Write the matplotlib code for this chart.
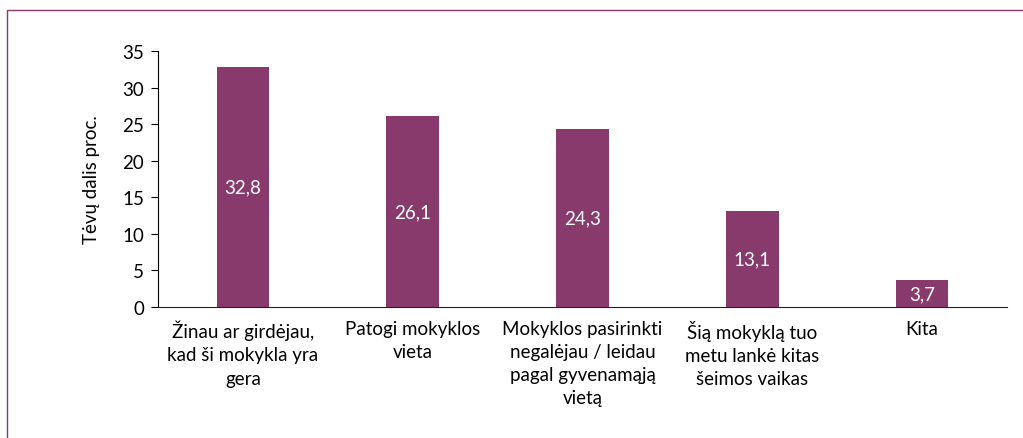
import matplotlib
matplotlib.use("Agg")
import matplotlib.pyplot as plt
from matplotlib.patches import Rectangle

plt.rcParams['font.family'] = ['Lato', 'DejaVu Sans']

# Data
categories = ["Žinau ar girdėjau,\nkad ši mokykla yra\ngera",
              "Patogi mokyklos\nvieta",
              "Mokyklos pasirinkti\nnegalėjau / leidau\npagal gyvenamąją\nvietą",
              "Šią mokyklą tuo\nmetu lankė kitas\nšeimos vaikas",
              "Kita"]
values = [32.8, 26.1, 24.3, 13.1, 3.7]
value_labels = ["32,8", "26,1", "24,3", "13,1", "3,7"]
yticks = [0, 5, 10, 15, 20, 25, 30, 35]

bar_color = "#893A6C"

fig = plt.figure(figsize=(10.23, 4.39), dpi=100)
ax = fig.add_axes([0.1544, 0.2984, 0.83, 0.5831])

x = range(len(categories))
bars = ax.bar(x, values, width=0.31, color=bar_color)
for b, lab in zip(bars, value_labels):
    ax.text(b.get_x() + b.get_width() / 2, b.get_height() / 2, lab,
            ha='center', va='center', color='white', fontsize=13.5)

ax.set_xlim(-0.5, len(categories) - 0.5)
ax.set_ylim(0, 35)
ax.set_yticks(yticks)
ax.set_xticks(list(x))
ax.set_xticklabels(categories, fontsize=13.5, linespacing=1.45)
ax.tick_params(axis='x', length=0, pad=9)
ax.tick_params(axis='y', length=5, labelsize=13.5, direction='out', pad=5)
ax.set_ylabel("Tėvų dalis proc.", fontsize=13.5, labelpad=16)

for s in ['top', 'right']:
    ax.spines[s].set_visible(False)
ax.spines['left'].set_color('black')
ax.spines['bottom'].set_color('#222222')

# outer frame
fig.patches.append(Rectangle((7 / 1023, -0.05), 1.1, 1 - 11 / 439 + 0.05,
                             transform=fig.transFigure, fill=False,
                             edgecolor="#893A6C", linewidth=1.0))

fig.savefig("out.png", dpi=100)
